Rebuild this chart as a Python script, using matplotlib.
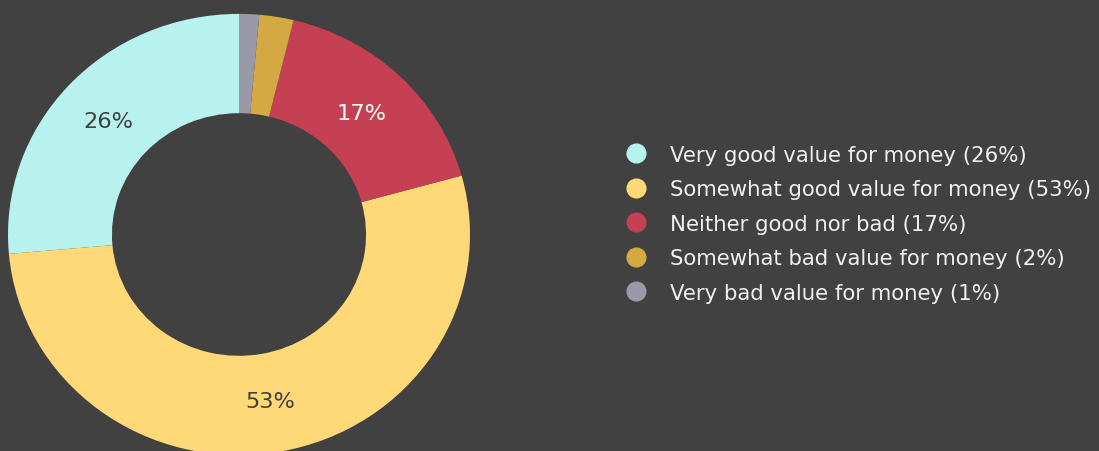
import matplotlib

matplotlib.use("Agg")
import matplotlib.pyplot as plt
from matplotlib.lines import Line2D

categories = [
    "Very good value for money",
    "Somewhat good value for money",
    "Neither good nor bad",
    "Somewhat bad value for money",
    "Very bad value for money",
]
shares = [26.4, 52.9, 16.9, 2.4, 1.4]
colors = ["#b8f2ee", "#ffd978", "#c44052", "#d4a843", "#9a99a8"]
label_colors = ["#404040", "#404040", "#ffffff", "#404040", "#404040"]

BG = "#414141"
W, H = 1099, 452


def main() -> None:
    fig = plt.figure(figsize=(W / 100, H / 100), dpi=100, facecolor=BG)

    # donut axes: x radius 231 px, y radius ~221 px, centered at (239, 235.5)
    cx, cy, rx, ry = 239, 235.5, 231, 220.6
    ax = fig.add_axes([(cx - rx) / W, 1 - (cy + ry) / H, 2 * rx / W, 2 * ry / H])
    ax.set_facecolor(BG)

    wedges, _, autotexts = ax.pie(
        shares,
        colors=colors,
        startangle=90,
        counterclock=True,
        radius=1.0,
        wedgeprops={"width": 0.45, "linewidth": 0},
        autopct=lambda p: f"{p:.0f}%" if p >= 5 else "",
        pctdistance=0.765,
        textprops={"fontsize": 16.2},
    )
    for text, color in zip(autotexts, label_colors):
        text.set_color(color)
    ax.set_aspect("auto")
    ax.set_xlim(-1, 1)
    ax.set_ylim(-1, 1)
    ax.axis("off")

    # legend drawn row by row
    for i, (name, share, color) in enumerate(zip(categories, shares, colors)):
        y = 154.3 + i * 34.5
        fig.add_artist(
            Line2D([636 / W], [1 - y / H], marker="o", markersize=13.5,
                   color=color, linestyle="none", transform=fig.transFigure)
        )
        fig.text(670.5 / W, 1 - (y + 7.5) / H, f"{name} ({share:.0f}%)",
                 color="#f0f0f0", fontsize=15.35, va="baseline", ha="left")

    fig.savefig("out.png", dpi=100, facecolor=BG)
    plt.close(fig)


if __name__ == "__main__":
    main()
